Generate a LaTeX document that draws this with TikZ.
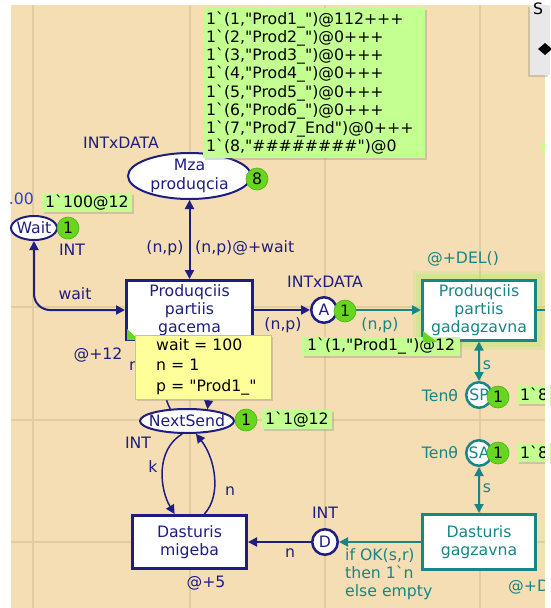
\documentclass[tikz,border=0pt]{standalone}
\usepackage{fontspec}
\setmainfont{DejaVu Sans}[Ligatures=TeXOff]
\usetikzlibrary{arrows.meta,shapes.geometric,shadows}
\definecolor{wheatbg}{RGB}{245,222,179}
\definecolor{gridc}{RGB}{226,202,162}
\definecolor{navyc}{RGB}{30,30,130}
\definecolor{tealc}{RGB}{22,134,134}
\definecolor{tokc}{RGB}{104,214,30}
\definecolor{tokd}{RGB}{80,175,20}
\definecolor{markc}{RGB}{196,255,146}
\definecolor{yelc}{RGB}{255,255,153}
\definecolor{bluec}{RGB}{45,65,215}
\definecolor{glowc}{RGB}{170,235,100}
\definecolor{popc}{RGB}{232,232,232}
\newcommand\bq{\symbol{96}}
\tikzset{
  cpnfont/.style={font=\fontsize{15.7}{18.2}\selectfont},
  navytxt/.style={cpnfont, text=navyc, inner sep=0pt},
  tealtxt/.style={cpnfont, text=tealc, inner sep=0pt},
  placeell/.style={ellipse, draw=navyc, line width=2pt, fill=white, inner sep=0pt},
  placecirc/.style={circle, line width=2.5pt, fill=white, minimum size=25.5pt, inner sep=0pt, cpnfont},
  transbox/.style={rectangle, line width=3pt, fill=white, align=center, cpnfont, inner xsep=3pt, inner ysep=2pt},
  tok/.style={circle, fill=tokc, draw=tokd, line width=0.6pt, minimum size=22pt, inner sep=0pt, cpnfont, text=black},
  markbox/.style={fill=markc, cpnfont, text=black, inner xsep=3pt, inner ysep=1pt, minimum height=19pt, anchor=west,
    drop shadow={shadow xshift=2pt, shadow yshift=-2pt, opacity=0.3}},
  navyarc/.style={draw=navyc, line width=2pt},
  tealarc/.style={draw=tealc, line width=2pt},
  toarr/.style={-{Triangle[length=9pt,width=9pt]}},
  botharr/.style={{Triangle[length=9pt,width=9pt]}-{Triangle[length=9pt,width=9pt]}},
}
\begin{document}
\begin{tikzpicture}[x=1pt,y=-1pt]
\useasboundingbox (0,0) rectangle (550,608);
\fill[white] (0,0) rectangle (550,608);
\fill[wheatbg] (11,5) rectangle (545,608);
\foreach \gx in {33,190,325,480} \draw[gridc, line width=2pt] (\gx,5) -- (\gx,608);
\foreach \gy in {307,420,542} \draw[gridc, line width=2pt] (11,\gy) -- (545,\gy);

% glow around enabled transition
\fill[glowc, opacity=0.18] (413,271) rectangle (545,350);
\fill[glowc, opacity=0.28] (416,274) rectangle (542,347);

% transitions
\node[transbox, draw=navyc, text=navyc, minimum width=126pt, minimum height=59pt] (gacema) at (189.5,310) {Produqciis\\partiis\\gacema};
\node[transbox, draw=tealc, text=tealc, minimum width=113pt, minimum height=60pt] (gad) at (479,310) {Produqciis\\partiis\\gadagzavna};
\node[transbox, draw=navyc, text=navyc, minimum width=114pt, minimum height=53pt] (mig) at (189.5,542) {Dasturis\\migeba};
\node[transbox, draw=tealc, text=tealc, minimum width=113pt, minimum height=55pt] (gag) at (479,542) {Dasturis\\gagzavna};

% places
\node[placeell, minimum width=123pt, minimum height=46pt] (mza) at (189.5,176) {};
\node[navytxt, align=center] (mzat) at (mza) {Mza\\produqcia};
\node[placeell, minimum width=46pt, minimum height=24pt] (wait) at (34,228) {};
\node[navytxt] (waitt) at (wait) {Wait};
\node[placeell, minimum width=94pt, minimum height=24pt] (ns) at (187,421) {};
\node[navytxt] (nst) at (ns) {NextSend};
\node[placecirc, draw=navyc, text=navyc] (a) at (324,310) {A};
\node[placecirc, draw=navyc, text=navyc] (d) at (325,542) {D};
\node[placecirc, draw=tealc, text=tealc] (sp) at (479,395) {SP};
\node[placecirc, draw=tealc, text=tealc] (sa) at (479,453) {SA};
\coordinate (gadout) at (546,310);

% arcs
\draw[navyarc, botharr] (mza.south) -- (gacema.north);
\draw[navyarc, botharr, rounded corners=16pt] (wait.south) |- (gacema.west);
\draw[navyarc, toarr] (gacema.east) -- (a.west);
\draw[tealarc, toarr] (a.east) -- (gad.west);
\draw[tealarc] (gad.east) -- (gadout);
\draw[tealarc, botharr] (gad.south) -- (sp.north);
\draw[tealarc, botharr] (sa.south) -- (gag.north);
\draw[tealarc, toarr] (gag.west) -- (d.east);
\draw[navyarc, toarr] (d.west) -- (mig.east);
\draw[navyarc, line width=1.5pt, toarr] (ns.250) .. controls (155,450) and (160,490) .. (mig.118);
\draw[navyarc, line width=1.5pt, toarr] (mig.62) .. controls (222,495) and (215,458) .. (ns.305);
\draw[navyarc, line width=1.5pt, toarr] (ns.144) .. controls (160,390) and (165,370) .. (gacema.250);
\draw[navyarc, line width=1.5pt, toarr] (gacema.295) .. controls (215,370) and (210,390) .. (ns.30);

% labels
\node[navytxt] (lintxdata1) at (121,143) {INTxDATA};
\node[navytxt] (lnp1) at (165,248) {(n,p)};
\node[navytxt, anchor=west] (lnpw) at (195,248) {(n,p)@+wait};
\node[navytxt] (lwait) at (75,294) {wait};
\node[navytxt] (lint1) at (72,250) {INT};
\node[text=bluec, cpnfont, inner sep=0pt, anchor=east] (l00) at (34,199) {.00};
\node[navytxt] (lat12) at (98,355) {@+12};
\node[navytxt] (lnhid) at (134,366) {n};
\node[navytxt] (lonehid) at (148,392) {1};
\node[navytxt] (lint2) at (138,443) {INT};
\node[navytxt] (lk) at (153,467) {k};
\node[navytxt] (ln2) at (230,491) {n};
\node[navytxt] (lat5) at (206,583) {@+5};
\node[navytxt] (lintd) at (325,513) {INT};
\node[navytxt] (lnd) at (290,553) {n};
\node[navytxt] (lintxdata2) at (325,282) {INTxDATA};
\node[navytxt] (lnp2) at (283,325) {(n,p)};
\node[tealtxt] (lnp3) at (380,325) {(n,p)};
\node[tealtxt] (ldel) at (463,259) {@+DEL()};
\node[tealtxt] (ls1) at (487,365) {s};
\node[tealtxt] (ls2) at (487,488) {s};
\node[tealtxt] (lten1) at (440,396) {Tenθ};
\node[tealtxt] (lten2) at (440,453) {Tenθ};
\node[tealtxt, anchor=west, align=left] (lif) at (345,574) {if OK(s,r)\\then 1\bq n\\else empty};
\node[tealtxt, anchor=west] (lad) at (508,587) {@+D};

% tokens
\node[tok] (tmza) at (257,179) {8};
\node[tok] (twait) at (68,228) {1};
\node[tok] (ta) at (345,311) {1};
\node[tok] (tns) at (246,420) {1};
\node[tok] (tsp) at (498,397) {1};
\node[tok] (tsa) at (498,453) {1};

% enabled markers
\fill[tokc] (127,329) -- (127,340) -- (139,340) -- cycle;

% markings
\node[markbox, anchor=north west, text width=216pt, align=left, inner xsep=3pt, inner ysep=3.5pt] (ann) at (203,8)
 {1\bq(1,"Prod1\_")@112+++\\
  1\bq(2,"Prod2\_")@0+++\\
  1\bq(3,"Prod3\_")@0+++\\
  1\bq(4,"Prod4\_")@0+++\\
  1\bq(5,"Prod5\_")@0+++\\
  1\bq(6,"Prod6\_")@0+++\\
  1\bq(7,"Prod7\_End")@0+++\\
  1\bq(8,"\#\#\#\#\#\#\#\#")@0};
\node[markbox] (mwait) at (42,202.5) {1\bq100@12};
\node[markbox] (mns) at (262,419.5) {1\bq1@12};
\node[markbox, inner xsep=5pt] (ma) at (302,346) {1\bq(1,"Prod1\_")@12};
\node[markbox] (msp) at (517,394) {1\bq8};
\node[markbox] (msa) at (517,452) {1\bq8};
\fill[markc] (541,142) rectangle (548,152);
\fill[tokc] (423,331) -- (423,342) -- (437,342) -- cycle;

% binding popup
\node[draw=black!25, fill=yelc, minimum width=136pt, minimum height=64pt, anchor=north west, inner sep=0pt,
  drop shadow={shadow xshift=2pt, shadow yshift=-2pt, opacity=0.3}] (yel) at (135,335) {};
\node[font=\fontsize{15.7}{20.5}\selectfont, anchor=north west, align=left, inner sep=0pt] (yelt) at (156,338)
 {wait = 100\\n = 1\\p = "Prod1\_"};

% right white strip and side panel
\fill[white] (545,5) rectangle (550,608);
\node[fill=popc, minimum width=20pt, minimum height=70pt, anchor=north west, inner sep=0pt,
  drop shadow={shadow xshift=-2pt, shadow yshift=-2pt, opacity=0.3}] (pop) at (530,5) {};
\node[cpnfont, anchor=north west, inner sep=0pt] (pops) at (533,3) {S};
\fill[black] (538,49) -- (545,43) -- (552,49) -- (545,55) -- cycle;
\end{tikzpicture}
\end{document}
